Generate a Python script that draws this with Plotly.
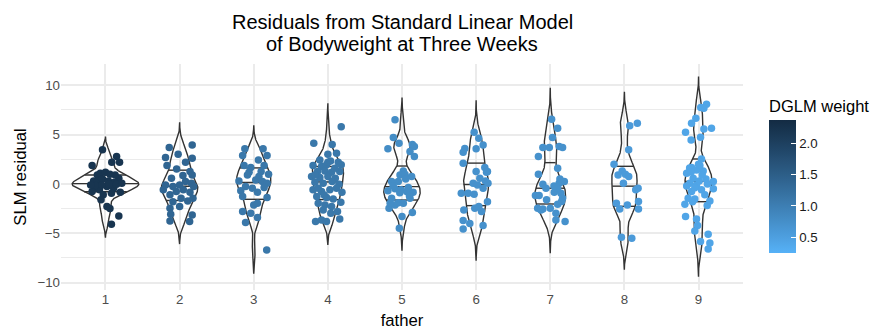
import numpy as np
import plotly.graph_objects as go

# ---------------- data ----------------
father_labels = ["1", "2", "3", "4", "5", "6", "7", "8", "9"]

# residuals (y) and horizontal jitter offsets (j) per father
y1 = [3.45, 1.86, 2.2, 2.77, 2.2, 0.91, 0.3, 1.08, 1.18, 0.98, 0.57, 0.91, -0.44, -0.78, -0.6,
      -0.27, -0.44, -0.84, -1.1, -0.95, -1.6, -2.3, -2.5, -3.24, -4.1, 0.24, 0.5, 0.3, 0.17,
      -0.17, -0.1, -0.03, -0.03, -0.1, 0.07]
j1 = [-0.04, -0.18, 0.085, 0.15, 0.19, -0.11, -0.16, -0.07, 0.0, 0.06, 0.18, 0.13, -0.14, -0.18,
      -0.08, 0.02, 0.11, 0.2, -0.03, 0.08, -0.06, 0.02, 0.06, 0.18, 0.08, -0.11, -0.04, 0.04,
      0.12, -0.13, -0.05, 0.05, 0.15, -0.2, 0.22]

y2 = [3.68, 3.95, 2.67, 3.0, 2.6, 2.2, 1.86, 1.52, 1.25, 0.91, 0.84, 0.57, -0.1, -0.27, -0.1,
      0.24, 0.07, -0.78, -0.6, -0.84, -1.1, -1.45, -1.72, -1.8, -1.45, -2.47, -2.3, -3.07,
      -3.14, -3.75, -3.8, -0.6, -0.27]
j2 = [-0.14, 0.17, -0.19, -0.02, 0.17, 0.08, -0.17, -0.04, 0.14, 0.17, 0.045, -0.11, -0.19,
      -0.09, 0.0, 0.08, 0.16, -0.045, 0.05, 0.14, -0.13, 0.02, 0.11, -0.09, 0.18, -0.13, 0.0,
      -0.12, 0.17, -0.13, 0.135, -0.22, 0.19]

y3 = [3.55, 3.55, 2.87, 2.87, 2.43, 1.86, 1.66, 1.86, 1.18, 1.25, 0.98, 0.3, 0.4, 0.24, 0.07,
      -0.27, -0.44, -0.37, -0.7, -0.84, -1.38, -1.28, -2.13, -1.96, -2.8, -2.97, -3.4, -3.9,
      -6.7, 0.91, 0.74]
j3 = [-0.12, 0.126, -0.15, 0.18, 0.063, -0.13, -0.04, 0.14, -0.063, 0.1, 0.2, -0.2, 0.027,
      0.117, 0.18, -0.11, -0.018, 0.14, -0.175, 0.05, 0.18, -0.15, 0.0, 0.05, -0.15, -0.04,
      0.05, -0.11, 0.175, -0.085, 0.07]

y4 = [5.8, 4.12, 4.0, 3.0, 3.1, 2.43, 2.33, 2.2, 1.86, 1.76, 1.93, 1.93, 1.25, 1.32, 1.18, 1.25,
      0.74, 0.64, 0.74, 0.57, 0.17, 0.07, 0.24, -0.03, -0.6, -0.78, -0.6, -0.44, -1.28, -1.38,
      -1.52, -1.86, -1.96, -2.13, -2.3, -2.64, -2.8, -3.82, -3.65, -3.82, -3.55, 0.91, 1.59,
      -1.12, -2.97, -0.84, -0.44, 2.2]
j4 = [0.18, -0.19, 0.058, 0.0, 0.117, -0.108, 0.036, 0.14, -0.2, -0.085, -0.018, 0.18, -0.14,
      -0.04, 0.05, 0.16, -0.22, -0.108, 0.0, 0.1, -0.175, -0.063, 0.058, 0.15, -0.2, -0.085,
      0.027, 0.117, -0.15, -0.018, 0.072, 0.175, -0.13, -0.04, 0.05, -0.063, 0.13, -0.166,
      -0.085, -0.018, 0.16, -0.175, 0.094, -0.05, 0.04, 0.19, -0.13, 0.0]

y5 = [6.49, 4.7, 4.12, 3.55, 4.0, 3.78, 3.28, 2.77, 1.32, 0.91, 0.98, 0.74, 0.24, 0.24, -0.7,
      -0.5, -0.6, -0.78, -0.84, -1.45, -1.9, -1.96, -1.45, -2.47, -2.13, -2.9, -3.3, -4.5,
      -0.37, -1.96, -0.9, -1.2, 0.5, -0.2]
j5 = [-0.094, -0.117, -0.04, -0.19, 0.14, 0.167, 0.108, 0.167, 0.018, -0.027, 0.04, 0.13, -0.14,
      -0.05, -0.19, -0.094, -0.013, 0.063, 0.15, -0.14, -0.05, 0.018, 0.108, -0.175, -0.094,
      0.14, 0.0, -0.036, 0.085, -0.16, -0.03, 0.1, 0.05, -0.12]

y6 = [5.24, 4.63, 3.95, 3.6, 3.55, 3.2, 2.1, 1.66, 1.25, 1.25, 0.57, 0.3, 0.07, 0.07, -0.1,
      -0.44, -0.95, -0.95, -1.05, -1.8, -2.64, -2.47, -2.3, -2.8, -3.72, -4.0, -4.22, -4.56, 1.18]
j6 = [-0.027, 0.036, 0.094, -0.153, 0.0, -0.175, -0.175, 0.117, 0.153, 0.0, 0.05, 0.126, -0.04,
      0.16, 0.018, 0.094, -0.2, -0.108, -0.027, 0.153, -0.166, -0.018, 0.036, 0.072, -0.175,
      -0.085, 0.094, -0.175, 0.14]

y7 = [6.55, 5.64, 4.7, 3.68, 3.68, 3.78, 3.68, 2.77, 0.98, 1.59, -0.03, 0.24, 0.07, -0.44,
      -1.18, -1.18, -0.84, -0.95, -1.45, -2.06, -2.47, -2.53, -2.47, -2.97, -3.65, -3.82,
      -0.44, -2.64, -1.79, -0.2, -1.6, 0.5]
j7 = [0.018, 0.1, 0.03, -0.1, -0.013, 0.12, 0.166, -0.16, -0.16, 0.1, -0.1, 0.19, 0.12, -0.058,
      -0.2, -0.15, 0.054, 0.144, 0.166, 0.1, -0.17, -0.1, 0.0, 0.076, 0.076, 0.2, 0.1, -0.126,
      0.153, 0.05, -0.05, 0.13]

y8 = [5.9, 6.15, 3.45, 2.0, 1.32, 0.98, 0.74, 0.07, -0.6, -0.44, -1.96, -2.13, -2.53, -1.79,
      -2.53, -5.4, -5.5, 0.91]
j8 = [0.072, 0.175, 0.058, -0.14, -0.03, 0.013, 0.058, -0.013, 0.153, 0.185, -0.108, 0.04,
      -0.063, 0.19, 0.19, -0.04, 0.1, -0.085]

y9 = [7.74, 8.07, 7.67, 6.65, 6.15, 5.57, 5.64, 5.24, 4.46, 4.73, 2.53, 2.0, 1.66, 1.08, 1.42,
      1.32, 0.5, 0.24, 0.07, -0.1, -0.6, -0.5, -0.78, -1.45, -1.52, -1.72, -2.06, -2.2, -3.3,
      -3.55, -4.22, -4.76, -5.1, -5.84, -6.0, -6.6, 1.86, 0.57, 0.3, -1.1, -1.8, -0.2,
      1.6, 0.9, 0.0, -0.4, 1.2]
j9 = [0.03, 0.108, 0.072, -0.036, -0.094, 0.072, 0.175, -0.175, -0.1, 0.027, 0.04, 0.0, -0.094,
      -0.16, -0.027, 0.063, 0.1, 0.2, -0.117, -0.027, 0.04, 0.2, -0.094, -0.14, -0.05, 0.153,
      -0.184, 0.117, -0.175, -0.027, -0.013, -0.05, 0.13, 0.027, 0.153, 0.13, 0.018, -0.072,
      0.009, 0.085, -0.08, -0.16, -0.12, 0.05, 0.12, -0.05, -0.1]

# DGLM weight of each father's points
father_weight = [2.2, 1.38, 1.1, 1.1, 0.78, 0.72, 0.72, 0.58, 0.42]
weight_limits = [0.25, 2.37]
weight_ticks = [0.5, 1.0, 1.5, 2.0]
y_ticks = [-10, -5, 0, 5, 10]
quantiles = [0.25, 0.5, 0.75]
bw_adjust = 0.85

resid_groups = [y1, y2, y3, y4, y5, y6, y7, y8, y9]
jitter_groups = [j1, j2, j3, j4, j5, j6, j7, j8, j9]

FONT = "Liberation Sans, Arial, sans-serif"
W, H = 873, 331


# ---------------- helpers ----------------
def bw_nrd0(v):
    v = np.asarray(v, float)
    hi = v.std(ddof=1)
    q75, q25 = np.percentile(v, [75, 25])
    lo = min(hi, (q75 - q25) / 1.34)
    return 0.9 * lo * len(v) ** -0.2


def kde(v, n=512):
    v = np.asarray(v, float)
    bw = bw_nrd0(v) * bw_adjust
    grid = np.linspace(v.min() - 3 * bw, v.max() + 3 * bw, n)
    d = np.exp(-0.5 * ((grid[:, None] - v[None, :]) / bw) ** 2).sum(1) / (len(v) * bw * np.sqrt(2 * np.pi))
    return grid, d


def hex_to_rgb(h):
    h = h.lstrip("#")
    return np.array([int(h[i:i + 2], 16) for i in (0, 2, 4)], float)


M = np.array([[0.4124564, 0.3575761, 0.1804375],
              [0.2126729, 0.7151522, 0.0721750],
              [0.0193339, 0.1191920, 0.9503041]])
WHITE = np.array([0.95047, 1.0, 1.08883])


def rgb_to_lab(rgb):
    c = rgb / 255.0
    lin = np.where(c <= 0.04045, c / 12.92, ((c + 0.055) / 1.055) ** 2.4)
    xyz = M @ lin / WHITE
    d = 6 / 29
    f = np.where(xyz > d ** 3, np.cbrt(xyz), xyz / (3 * d * d) + 4 / 29)
    return np.array([116 * f[1] - 16, 500 * (f[0] - f[1]), 200 * (f[1] - f[2])])


def lab_to_rgb(lab):
    L, a, b = lab
    fy = (L + 16) / 116
    fx = fy + a / 500
    fz = fy - b / 200
    d = 6 / 29
    f = np.array([fx, fy, fz])
    xyz = np.where(f > d, f ** 3, 3 * d * d * (f - 4 / 29)) * WHITE
    lin = np.linalg.solve(M, xyz)
    lin = np.clip(lin, 0, 1)
    c = np.where(lin <= 0.0031308, 12.92 * lin, 1.055 * lin ** (1 / 2.4) - 0.055)
    c = np.clip(np.round(c * 255), 0, 255).astype(int)
    return "rgb(%d,%d,%d)" % tuple(c)


low_lab = rgb_to_lab(hex_to_rgb("#56B1F7"))
high_lab = rgb_to_lab(hex_to_rgb("#132B43"))
colorscale = [[t, lab_to_rgb(low_lab + (high_lab - low_lab) * t)] for t in np.linspace(0, 1, 21)]

# ---------------- violins (ggplot-like, trim = FALSE, scale = "area") ----------------
dens = [kde(v) for v in resid_groups]
dmax = max(d.max() for _, d in dens)

vx, vy, qx, qy = [], [], [], []
for i, (grid, d) in enumerate(dens):
    c = i + 1
    hw = 0.45 * d / dmax
    vx += list(np.concatenate([c - hw, (c + hw)[::-1], [c - hw[0]]])) + [None]
    vy += list(np.concatenate([grid, grid[::-1], [grid[0]]])) + [None]
    cdf = np.cumsum(d) / d.sum()
    for q in quantiles:
        yq = np.interp(q, cdf, grid)
        w = np.interp(yq, grid, hw)
        qx += [c - w, c + w, None]
        qy += [yq, yq, None]

# ---------------- points ----------------
px, py, pw = [], [], []
for i, (ys, js) in enumerate(zip(resid_groups, jitter_groups)):
    px += [i + 1 + j for j in js]
    py += list(ys)
    pw += [father_weight[i]] * len(ys)

fig = go.Figure()
fig.add_trace(go.Scatter(x=vx, y=vy, mode="lines", line=dict(color="#333333", width=1.4),
                         hoverinfo="skip", showlegend=False))
fig.add_trace(go.Scatter(x=qx, y=qy, mode="lines", line=dict(color="#333333", width=1.4),
                         hoverinfo="skip", showlegend=False))
fig.add_trace(go.Scatter(
    x=px, y=py, mode="markers", showlegend=False,
    marker=dict(
        size=7.5, color=pw, colorscale=colorscale, cmin=weight_limits[0], cmax=weight_limits[1],
        line=dict(width=0), opacity=1,
        showscale=True,
        colorbar=dict(
            title=dict(text="DGLM weight", side="top", font=dict(family=FONT, size=16.5, color="black")),
            thickness=27, thicknessmode="pixels",
            len=156, lenmode="pixels",
            xref="container", yref="paper",
            x=769 / W, xanchor="left", y=0.509, yanchor="middle",
            xpad=0, ypad=0, outlinewidth=0,
            tickvals=weight_ticks, ticktext=["%.1f" % t for t in weight_ticks],
            ticks="inside", ticklen=5, tickcolor="white", tickwidth=1,
            tickfont=dict(family=FONT, size=13.3, color="#1a1a1a"),
        ),
    ),
))

grid_col = "#EBEBEB"
fig.update_layout(
    width=W, height=H, autosize=False,
    margin=dict(l=61, r=130, t=64, b=41, autoexpand=False),
    paper_bgcolor="white", plot_bgcolor="white",
    font=dict(family=FONT, color="black"),
    xaxis=dict(
        range=[0.4, 9.6], tickvals=list(range(1, 10)), ticktext=father_labels,
        showgrid=True, gridcolor=grid_col, gridwidth=1.5, zeroline=False, showline=False,
        ticks="", tickfont=dict(family=FONT, size=13.3, color="#4D4D4D"),
        title=dict(text="father", font=dict(family=FONT, size=16.7, color="black"), standoff=8),
        automargin=False,
    ),
    yaxis=dict(
        range=[-10.75, 12.15], tickvals=y_ticks, ticktext=["\u221210", "\u22125", "0", "5", "10"],
        showgrid=True, gridcolor=grid_col, gridwidth=1.5, zeroline=False, showline=False,
        ticks="", tickfont=dict(family=FONT, size=13.3, color="#4D4D4D"),
        minor=dict(dtick=2.5, tick0=0, showgrid=True, gridcolor=grid_col, gridwidth=0.8, ticks=""),
        title=dict(text="SLM residual", font=dict(family=FONT, size=16.7, color="black"), standoff=6),
        automargin=False,
    ),
    annotations=[
        dict(text="Residuals from Standard Linear Model", xref="paper", yref="paper",
             x=0.5, y=(290 - 22) / 226, xanchor="center", yanchor="middle", showarrow=False,
             font=dict(family=FONT, size=20, color="black")),
        dict(text="of Bodyweight at Three Weeks", xref="paper", yref="paper",
             x=0.5, y=(290 - 44.5) / 226, xanchor="center", yanchor="middle", showarrow=False,
             font=dict(family=FONT, size=20, color="black")),
    ],
)

fig.write_html("out.html")
